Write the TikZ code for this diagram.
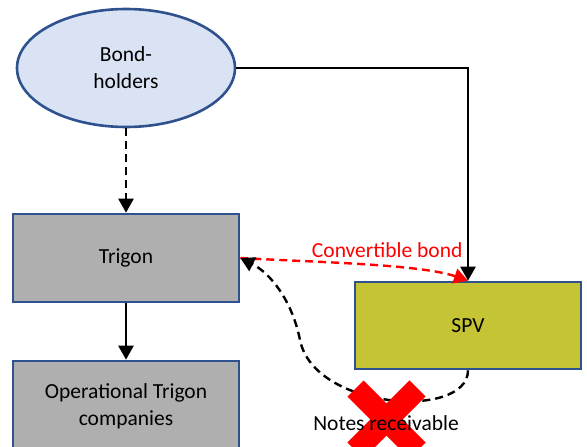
\documentclass[tikz,border=0pt]{standalone}
\usepackage{fontspec}
\setmainfont{Carlito}
\usetikzlibrary{arrows.meta,shapes.geometric}

\definecolor{boxblue}{RGB}{47,82,143}
\definecolor{holderfill}{RGB}{218,227,243}
\definecolor{trigongrey}{RGB}{175,175,175}
\definecolor{spvolive}{RGB}{196,196,52}

\begin{document}
\begin{tikzpicture}[x=1pt, y=-1pt,
    font=\fontsize{21.5}{27}\selectfont,
    entity/.style={draw=boxblue, line width=2.6pt, align=center, inner sep=0pt},
    flow/.style={line width=2.4pt, -{Triangle[width=15pt,length=14pt]}},
    loose/.style={dash pattern=on 8pt off 5pt}]
    \useasboundingbox (0,0) rectangle (587,447);
    \clip (0,0) rectangle (587,447);
    \node[entity, ellipse, fill=holderfill, minimum width=218, minimum height=118] (holders) at (126,68) {Bond-\\holders};
    \node[entity, rectangle, fill=trigongrey, minimum width=226, minimum height=88] (trig) at (126,258) {Trigon};
    \node[entity, rectangle, fill=trigongrey, minimum width=226, minimum height=90] (ops) at (126,406) {Operational Trigon\\companies};
    \node[entity, rectangle, fill=spvolive, minimum width=226, minimum height=87] (spv) at (468,325.5) {SPV};
    \draw[flow, loose] (holders) -- (trig);
    \draw[flow] (trig) -- (ops);
    \draw[flow] (holders.east) -| (spv.north);
    \draw[flow, loose, red] (trig.east) .. controls (310,262) and (420,264) .. (spv.north)
        node[pos=0.6, above=4pt, text=red] (cb) {Convertible bond};
    \draw[flow, loose] (spv.south) .. controls (468,420) and (314,410) .. (300,340)
        .. controls (292,300) and (270,273) .. (trig.east);
    % crossed-out notes
    \draw[red, line width=22.7pt] (355.5,388.5) -- (417.5,450.5) (417.5,388.5) -- (355.5,450.5);
    \node (notes) at (386,423) {Notes receivable};
\end{tikzpicture}
\end{document}
